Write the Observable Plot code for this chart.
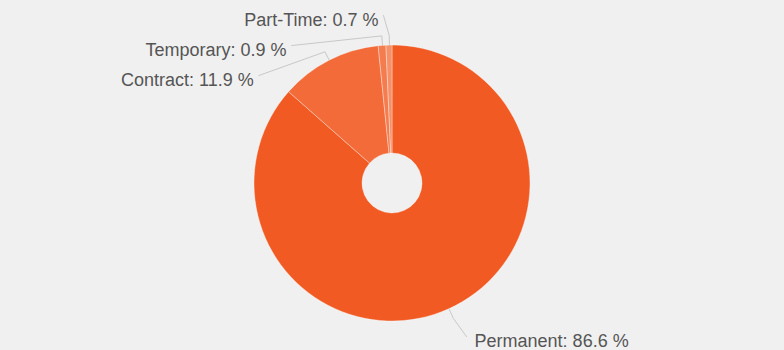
<!DOCTYPE html>
<html>
<head>
<meta charset="utf-8">
<script src="https://cdn.jsdelivr.net/npm/d3@7"></script>
<script src="https://cdn.jsdelivr.net/npm/@observablehq/plot@0.6"></script>
<style>
  html, body { margin: 0; padding: 0; background: #f0f0f0; }
  #chart { width: 784px; height: 350px; }
</style>
</head>
<body>
<div id="chart"></div>
<script>
// Employment type shares (%)
const categories = ["Permanent", "Contract", "Temporary", "Part-Time"];
const shares = [86.6, 11.9, 0.9, 0.7];
const colors = ["#f15a22", "#f36b39", "#f47c4f", "#f59068"];

const W = 784, H = 350;
const cx = 392, cy = 183;          // donut centre
const outerR = 138, innerR = 30;   // donut radii
const labelR = outerR + 30;        // circle on which labels sit
const labelGap = 30;               // minimum vertical spacing between labels

// Angles: 0 at twelve o'clock, clockwise, in data order
const pie = d3.pie().sort(null).value(d => d.share)(
  categories.map((category, i) => ({category, share: shares[i], color: colors[i]}))
);

const slices = pie.map(p => {
  const mid = (p.startAngle + p.endAngle) / 2;
  return {...p.data, mid, left: Math.sin(mid) < 0, y0: cy - labelR * Math.cos(mid)};
});

// Push overlapping labels apart on each side, top to bottom
for (const side of [true, false]) {
  const group = slices.filter(s => s.left === side).sort((a, b) => a.y0 - b.y0);
  for (let i = 1; i < group.length; ++i) {
    group[i].y0 = Math.max(group[i].y0, group[i - 1].y0 + labelGap);
  }
}
for (const s of slices) {
  const dy = s.y0 - cy;
  const sign = s.left ? -1 : 1;
  // keep labels at the very top slightly off the vertical axis
  s.x0 = cx + sign * Math.max(4, Math.sqrt(Math.max(0, labelR * labelR - dy * dy)));
  s.tx = s.x0 + sign * (s.left ? 10 : 13);
  s.ty = s.y0 + 5;
  s.text = `${s.category}: ${s.share} %`;
}

// Leader lines: label end -> bend just outside the rim -> rim
const polar = (r, a) => [cx + r * Math.sin(a), cy - r * Math.cos(a)];
const leaders = slices.flatMap(s => {
  const sign = s.left ? -1 : 1;
  const [bx, by] = polar(outerR + 10, s.mid);
  const [ex, ey] = polar(outerR, s.mid);
  return [
    {category: s.category, x: s.x0 + sign * 5, y: s.y0},
    {category: s.category, x: bx, y: by},
    {category: s.category, x: ex, y: ey}
  ];
});

// Donut slices drawn with d3.arc in the plot's coordinate system
function donut(index, scales) {
  const {x, y} = scales;
  const k = x(1) - x(0);
  const arc = d3.arc().innerRadius(innerR * k).outerRadius(outerR * k);
  const g = d3.create("svg:g").attr("transform", `translate(${x(cx)},${y(cy)})`);
  g.selectAll("path")
    .data(pie)
    .join("path")
    .attr("d", arc)
    .attr("fill", d => d.data.color)
    .attr("stroke", "#ffffff")
    .attr("stroke-opacity", 0.35)
    .attr("stroke-width", 1)
    .attr("stroke-linejoin", "round");
  return g.node();
}

const font = "'Liberation Sans', Arial, Helvetica, sans-serif";

const chart = Plot.plot({
  width: W,
  height: H,
  margin: 0,
  x: {domain: [0, W], range: [0, W], axis: null},
  y: {domain: [0, H], range: [0, H], axis: null},
  style: {background: "#f0f0f0", overflow: "visible"},
  marks: [
    Plot.line(leaders, {x: "x", y: "y", z: "category", stroke: "#c8c8c8", strokeWidth: 1, curve: "linear"}),
    donut,
    Plot.text(slices.filter(s => s.left), {
      x: "tx", y: "ty", text: "text", textAnchor: "end", lineAnchor: "middle",
      fontSize: 18, fontFamily: font, fill: "#555555"
    }),
    Plot.text(slices.filter(s => !s.left), {
      x: "tx", y: "ty", text: "text", textAnchor: "start", lineAnchor: "middle",
      fontSize: 18, fontFamily: font, fill: "#555555"
    })
  ]
});

document.getElementById("chart").append(chart);
</script>
</body>
</html>
